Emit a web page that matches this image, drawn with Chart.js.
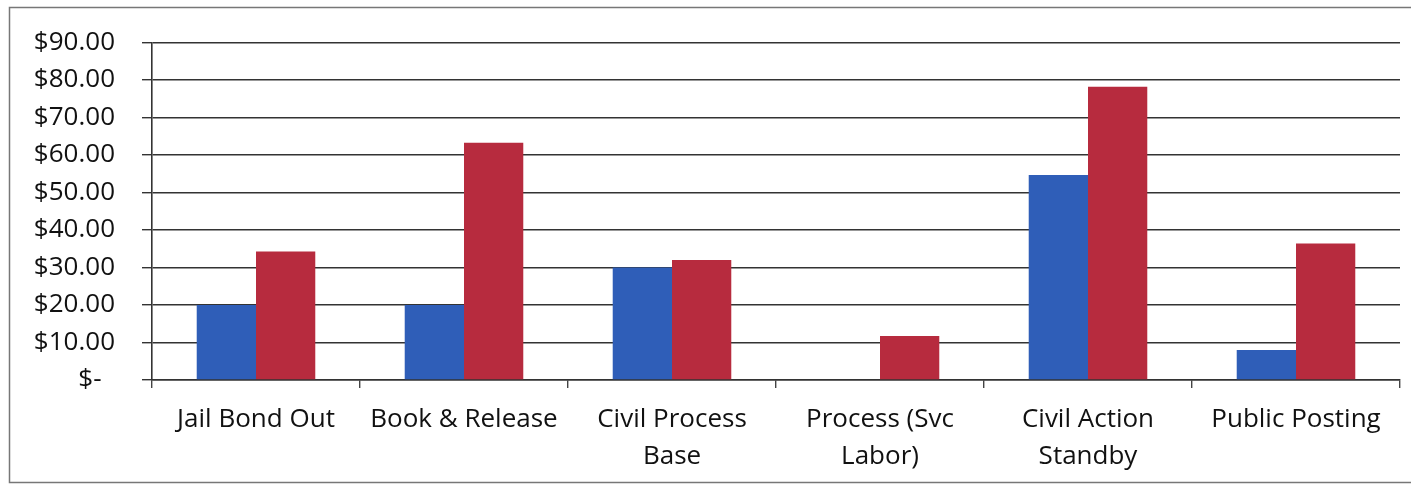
<!DOCTYPE html>
<html>
<head>
<meta charset="utf-8">
<script src="https://cdn.jsdelivr.net/npm/chart.js@4"></script>
<style>
html,body{margin:0;padding:0;background:#fff;}
#wrap{width:1411px;height:486px;position:relative;}
</style>
</head>
<body>
<div id="wrap"><canvas id="c" width="1411" height="486"></canvas></div>
<script>
const categories = [
  ["Jail Bond Out"],
  ["Book & Release"],
  ["Civil Process", "Base"],
  ["Process (Svc", "Labor)"],
  ["Civil Action", "Standby"],
  ["Public Posting"]
];
const seriesBlue = [20.00, 20.00, 30.00, 0, 54.65, 8.00];
const seriesRed = [34.25, 63.30, 32.00, 11.75, 78.25, 36.40];
const yTickValues = [0, 10, 20, 30, 40, 50, 60, 70, 80, 90];
const yTickLabels = ["$-  ", "$10.00", "$20.00", "$30.00", "$40.00", "$50.00", "$60.00", "$70.00", "$80.00", "$90.00"];

const frame = {
  id: 'frame',
  beforeDraw(chart) {
    const ctx = chart.ctx;
    ctx.save();
    ctx.fillStyle = '#fff';
    ctx.fillRect(0, 0, chart.width, chart.height);
    ctx.strokeStyle = '#777';
    ctx.lineWidth = 1.5;
    ctx.strokeRect(9.5, 7.5, 1420, 475);
    ctx.restore();
  }
};

new Chart(document.getElementById('c'), {
  type: 'bar',
  data: {
    labels: categories,
    datasets: [
      { data: seriesBlue, backgroundColor: '#2F5EB8', borderWidth: 0, categoryPercentage: 0.57, barPercentage: 1.0 },
      { data: seriesRed, backgroundColor: '#B72B3E', borderWidth: 0, categoryPercentage: 0.57, barPercentage: 1.0 }
    ]
  },
  plugins: [frame],
  options: {
    responsive: false,
    animation: false,
    devicePixelRatio: 1,
    layout: { padding: { left: 0, right: 11, top: 38, bottom: 0 } },
    plugins: { legend: { display: false }, tooltip: { enabled: false } },
    scales: {
      x: {
        grid: { offset: true, drawOnChartArea: false, drawTicks: true, tickLength: 8, color: '#444', lineWidth: 1.4 },
        border: { display: true, color: '#333', width: 1.6 },
        ticks: { color: '#111', padding: 13, maxRotation: 0, autoSkip: false,
          font: { family: '"Open Sans"', size: 26, lineHeight: 1.42 } },
        afterFit(s) { s.height = 106; }
      },
      y: {
        min: 0, max: 90,
        afterBuildTicks(s) { s.ticks = yTickValues.map(v => ({ value: v })); },
        grid: { color: '#333', lineWidth: 1.4, tickLength: 10, drawTicks: true },
        border: { display: true, color: '#333', width: 1.6 },
        ticks: {
          color: '#111', padding: 27,
          font: { family: '"Open Sans"', size: 26 },
          callback(v) { const i = yTickValues.indexOf(v); return i >= 0 ? yTickLabels[i] : ''; }
        },
        afterFit(s) { s.width = 152; }
      }
    }
  }
});
</script>
</body>
</html>
